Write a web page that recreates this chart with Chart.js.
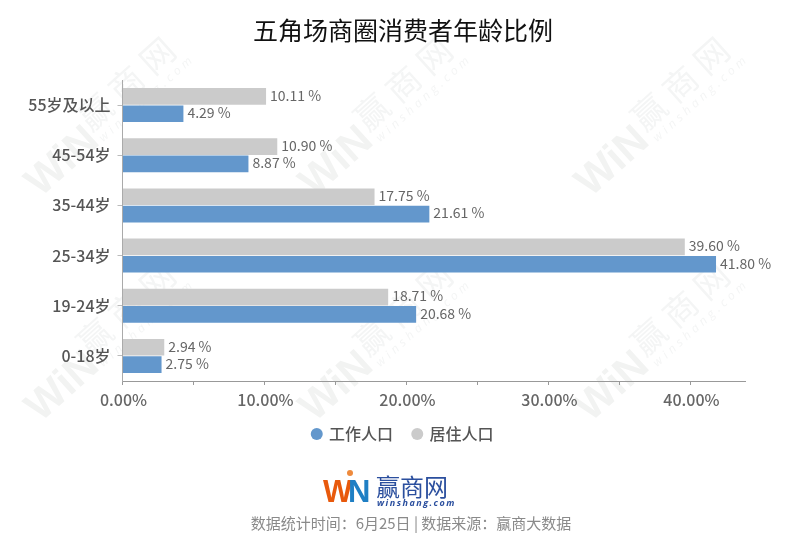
<!DOCTYPE html>
<html><head><meta charset="utf-8">
<script src="https://cdn.jsdelivr.net/npm/chart.js@4"></script>
<style>html,body{margin:0;padding:0;background:#fff;overflow:hidden}#w{position:relative;width:800px;height:545px}</style>
</head><body><div id="w"><canvas id="c" width="800" height="545"></canvas></div>
<script>
const categories = ['55岁及以上','45-54岁','35-44岁','25-34岁','19-24岁','0-18岁'];
const residents = [10.11,10.90,17.75,39.60,18.71,2.94];
const workers = [4.29,8.87,21.61,41.80,20.68,2.75];
const residentLabels = ['10.11 %','10.90 %','17.75 %','39.60 %','18.71 %','2.94 %'];
const workerLabels = ['4.29 %','8.87 %','21.61 %','41.80 %','20.68 %','2.75 %'];
const seriesNames = ['工作人口','居住人口'];
const titleText = '五角场商圈消费者年龄比例';
const footerText = '数据统计时间：6月25日 | 数据来源：赢商大数据';
const FONT = '"Noto Sans CJK SC","Noto Sans",sans-serif';
const wmLogos = [[63,162],[337,162],[613,162],[63,387],[337,387],[613,387]];
const wmTexts = [[129,81],[406,81],[683,81],[129,306],[406,306],[683,306]];

const backdrop = {id:'backdrop',beforeDraw(ch){
  const g=ch.ctx;g.save();g.textAlign='center';g.textBaseline='middle';
  const a=-42*Math.PI/180;
  wmLogos.forEach(([x,y])=>{g.save();g.translate(x,y);g.rotate(a);g.fillStyle='#f2f3f2';g.font='bold 42px "Liberation Sans"';g.fillText('WiN',0,0);g.restore();});
  wmTexts.forEach(([x,y])=>{g.save();g.translate(x,y);g.rotate(a);g.fillStyle='#f4f5f5';g.font='34px '+FONT;g.letterSpacing='8px';g.fillText('赢商网',0,0);g.letterSpacing='4px';g.font='italic 12px "Open Sans"';g.fillText('winshang.com',2,25);g.letterSpacing='0px';g.restore();});
  g.restore();
}};
const front = {id:'front',afterDatasetsDraw(ch){
  const g=ch.ctx;g.save();g.font='14px "Noto Sans CJK SC"';g.fillStyle='#666';g.textAlign='left';g.textBaseline='middle';
  ch.data.datasets.forEach((d,i)=>{
    const m=ch.getDatasetMeta(i);
    m.data.forEach((e,j)=>g.fillText(d.tags[j],e.x+4,e.y-1));
  });
  g.restore();
},afterDraw(ch){
  const g=ch.ctx;g.save();g.textBaseline='alphabetic';
  g.font='bold 31px "Liberation Sans"';g.textAlign='left';
  g.fillStyle='#e8590c';g.fillText('W',323,502);
  g.fillStyle='#1f7fc4';g.fillText('N',348,502);
  g.fillStyle='#ee8a3c';g.beginPath();g.arc(350,473,3,0,7);g.fill();
  g.textBaseline='middle';
  g.fillStyle='#2b4f9e';g.font='24px '+FONT;g.fillText('赢商网',376,487);
  g.font='italic bold 9px "Open Sans"';g.letterSpacing='1.5px';g.fillText('winshang.com',377,503);g.letterSpacing='0px';
  g.fillStyle='#8a8a8a';g.font='15px '+FONT;g.textAlign='center';g.fillText(footerText,411,523);
  g.restore();
}};
new Chart(document.getElementById('c'),{
  type:'bar',
  data:{labels:categories,datasets:[
    {label:seriesNames[1],data:residents,tags:residentLabels,backgroundColor:'#cbcbcb',order:1},
    {label:seriesNames[0],data:workers,tags:workerLabels,backgroundColor:'#6397cc',order:2}
  ]},
  plugins:[backdrop,front],
  options:{
    indexAxis:'y',responsive:false,animation:false,devicePixelRatio:1,
    layout:{padding:{left:6,right:0,top:0,bottom:93}},
    datasets:{bar:{categoryPercentage:0.69,barPercentage:0.96}},
    scales:{
      x:{min:0,max:43.84,
        grid:{drawOnChartArea:false,tickLength:4,tickColor:'#999'},
        border:{color:'#999'},
        afterBuildTicks(a){a.ticks=[0,5,10,15,20,25,30,35,40].map(v=>({value:v}));},
        afterFit(a){a.height=25;},
        ticks:{autoSkip:false,maxRotation:0,color:'#666',font:{family:FONT,size:16,weight:'500'},padding:5,labelOffset:1,
          callback:v=>v%10===0?v.toFixed(2)+'%':''}
      },
      y:{grid:{drawOnChartArea:false,tickLength:5,tickColor:'#bbb',offset:false},border:{color:'#aaa'},
        afterFit(a){a.width=116.5;},
        ticks:{color:'#555',font:{family:FONT,size:16,weight:'500'},padding:7}
      },
      spacer:{type:'linear',axis:'y',position:'right',
        grid:{display:false},border:{display:false},ticks:{display:false},
        afterFit(a){a.width=55;}
      }
    },
    plugins:{
      tooltip:{enabled:false},
      title:{display:true,text:titleText,color:'#111',font:{family:FONT,size:25,weight:'normal'},padding:{top:15,bottom:35}},
      legend:{position:'bottom',reverse:true,labels:{usePointStyle:true,pointStyle:'circle',boxWidth:8.5,boxHeight:8.5,color:'#555',padding:20,font:{family:FONT,size:16,weight:'500'}}}
    }
  }
});
</script></body></html>
